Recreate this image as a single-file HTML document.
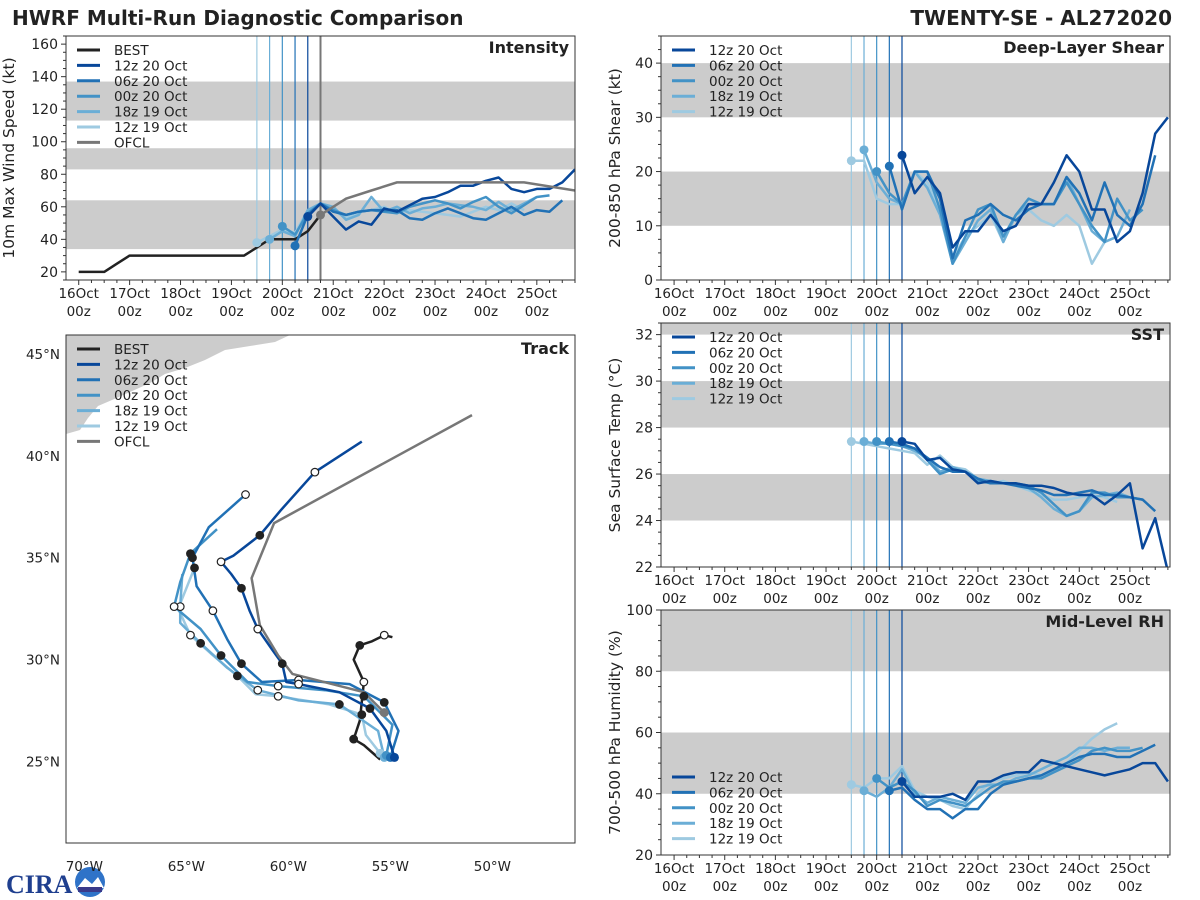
<!DOCTYPE html>
<html><head><meta charset="utf-8">
<style>
html,body{margin:0;padding:0;background:#fff;}
svg{display:block;font-family:"DejaVu Sans","Liberation Sans",sans-serif;}
</style></head>
<body>
<svg id="fig" width="1200" height="900" viewBox="0 0 1200 900">
<rect x="0" y="0" width="1200" height="900" fill="#fff"/>
<text x="12" y="25" font-size="20" font-weight="bold" fill="#222">HWRF Multi-Run Diagnostic Comparison</text>
<text x="1172" y="25" font-size="20" font-weight="bold" fill="#222" text-anchor="end">TWENTY-SE - AL272020</text>
<g id="logo">
<text x="6" y="893" font-size="26" font-weight="bold" fill="#1f3f8f" font-family="Liberation Serif, serif">CIRA</text>
<circle cx="90" cy="882" r="15" fill="#2f73c8"/>
<path d="M77 888 L85 878 L92 884 L98 877 L104 888 Z" fill="#fff"/>
<rect x="78" y="887" width="24" height="5" fill="#3a3a8a"/>
</g>
</svg>
<script>
// ---------- data ----------
const modelNames = ["12z 19 Oct","18z 19 Oct","00z 20 Oct","06z 20 Oct","12z 20 Oct"];
const modelColors = ["#9ecae1","#6baed6","#4292c6","#2171b5","#08479a"];
const modelInitHours = [84,90,96,102,108];
const dayLabels = ["16Oct","17Oct","18Oct","19Oct","20Oct","21Oct","22Oct","23Oct","24Oct","25Oct"];

// Intensity (kt), 6-hourly from init
const int12z19 = [38,42,46,44,58,62,58,53,57,58,60,56,58,57,56,55,54,57,60,58,62,58];
const int18z19 = [40,45,42,58,62,60,52,55,66,57,60,56,59,60,62,61,60,58,63,58,62,66];
const int00z20 = [48,43,56,62,58,55,57,58,57,56,60,62,64,62,59,63,66,60,56,61,66,67];
const int06z20 = [36,55,62,57,55,57,58,58,58,53,52,56,59,56,53,52,56,60,55,58,57,64];
const int12z20 = [54,62,54,46,51,49,59,57,61,65,66,69,73,73,76,78,71,69,71,71,75,83];
const bestHours = [0,6,12,18,24,30,36,42,48,54,60,66,72,78,84,90,96,102,108,114];
const bestWind  = [20,20,20,25,30,30,30,30,30,30,30,30,30,30,35,40,40,40,45,55];
const ofclHours = [114,126,138,150,162,186,210,234];
const ofclWind  = [55,65,70,75,75,75,75,70];

// Deep-layer shear (kt)
const shr12z19 = [22,22,15,14,14,20,18,13,4,8,10,12,7,12,13,11,10,12,10,3,7,8];
const shr18z19 = [24,18,15,14,20,17,12,3,7,11,13,7,12,14,14,14,19,14,9,7,8,13];
const shr00z20 = [20,16,14,20,20,13,3,8,13,14,8,12,15,14,14,18,14,10,7,15,11,13];
const shr06z20 = [21,13,20,20,15,4,11,12,14,12,11,13,14,14,19,16,11,18,12,10,14,23];
const shr12z20 = [23,16,19,16,6,9,9,12,9,10,14,14,18,23,20,13,13,7,9,16,27,30];

// SST (C)
const sst12z19 = [27.4,27.3,27.2,27.1,27.0,26.9,26.4,26.8,26.3,26.2,25.8,25.6,25.7,25.5,25.3,25.1,24.9,24.9,25.0,25.1,25.0,24.8];
const sst18z19 = [27.4,27.3,27.3,27.2,27.0,26.7,26.1,26.3,26.1,25.8,25.7,25.6,25.6,25.4,25.0,24.5,24.2,24.4,25.0,25.1,25.2,25.0];
const sst00z20 = [27.4,27.3,27.2,27.1,26.6,26.0,26.2,26.1,25.7,25.6,25.6,25.6,25.5,25.2,24.7,24.2,24.4,25.2,25.2,25.0,25.0,24.9];
const sst06z20 = [27.4,27.3,27.1,26.7,26.3,26.1,26.1,25.8,25.6,25.6,25.5,25.4,25.3,25.1,25.1,25.2,25.3,25.1,25.1,25.0,24.9,24.4];
const sst12z20 = [27.4,27.3,26.6,26.7,26.2,26.1,25.6,25.7,25.6,25.6,25.5,25.5,25.4,25.2,25.1,25.1,24.7,25.1,25.6,22.8,24.1,21.8];

// Mid-level RH (%)
const rh12z19 = [43,42,45,45,49,41,39,38,36,35,40,44,45,46,47,46,48,50,54,58,61,63];
const rh18z19 = [41,39,42,48,40,37,39,38,37,42,43,43,45,46,48,50,52,55,55,54,55,55];
const rh00z20 = [45,42,44,41,36,38,37,36,39,42,44,44,45,45,47,49,51,54,55,54,54,55];
const rh06z20 = [41,42,38,35,35,32,35,35,40,43,44,45,46,48,50,52,53,53,52,52,54,56];
const rh12z20 = [44,39,39,39,40,38,44,44,46,47,47,51,50,49,48,47,46,47,48,50,50,44];

// Tracks (lon E negative, lat N)
const bestLon = [-55.5,-56.3,-56.8,-56.5,-56.3,-56.8,-56.5,-55.9,-55.3,-54.9];
const bestLat = [25.1,25.8,26.1,27.0,28.9,30.0,30.7,30.9,31.2,31.1];
const ofclLon = [-55.3,-56.3,-59.8,-60.5,-61.4,-61.8,-60.7,-51.0];
const ofclLat = [27.4,28.4,29.3,30.2,31.7,34.0,36.7,42.0];
const trk12z19Lon = [-55.5,-56.2,-56.4,-58.0,-60.5,-61.6,-62.5,-63.8,-64.8,-65.4,-64.6];
const trk12z19Lat = [25.4,26.3,27.3,27.8,28.2,28.3,29.2,30.3,31.2,32.5,34.5];
const trk18z19Lon = [-55.3,-55.6,-57.5,-59.5,-61.5,-63.0,-64.3,-65.3,-65.3,-65.2];
const trk18z19Lat = [25.2,26.5,27.8,28.0,28.5,29.6,30.8,31.8,32.6,34.2];
const trk00z20Lon = [-55.2,-54.9,-56.3,-58.2,-60.5,-62.0,-63.3,-64.3,-65.6,-65.3,-64.8,-63.5];
const trk00z20Lat = [25.3,26.8,28.2,28.5,28.7,28.9,30.2,31.5,32.6,33.8,35.2,36.4];
const trk06z20Lon = [-55.0,-54.6,-55.3,-57.0,-59.5,-61.3,-62.3,-63.0,-63.7,-64.5,-64.7,-63.9,-62.1];
const trk06z20Lat = [25.2,26.5,27.9,28.8,29.0,28.9,29.8,31.0,32.4,33.6,35.0,36.5,38.1];
const trk12z20Lon = [-54.8,-55.2,-56.0,-57.5,-59.5,-60.1,-60.3,-60.8,-61.5,-61.9,-62.3,-62.8,-63.3,-62.7,-61.4,-60.4,-58.7,-56.4];
const trk12z20Lat = [25.2,26.5,27.6,28.4,28.8,28.9,29.8,30.5,31.5,32.4,33.5,34.2,34.8,35.1,36.1,37.3,39.2,40.7];

const intSeries = [int12z19,int18z19,int00z20,int06z20,int12z20];
const shrSeries = [shr12z19,shr18z19,shr00z20,shr06z20,shr12z20];
const sstSeries = [sst12z19,sst18z19,sst00z20,sst06z20,sst12z20];
const rhSeries  = [rh12z19,rh18z19,rh00z20,rh06z20,rh12z20];
const trkLons = [trk12z19Lon,trk18z19Lon,trk00z20Lon,trk06z20Lon,trk12z20Lon];
const trkLats = [trk12z19Lat,trk18z19Lat,trk00z20Lat,trk06z20Lat,trk12z20Lat];

// ---------- drawing ----------
const NS = "http://www.w3.org/2000/svg";
const svg = document.getElementById("fig");
function mk(tag, attrs, parent){
  const e = document.createElementNS(NS, tag);
  for (const k in attrs) e.setAttribute(k, attrs[k]);
  (parent||svg).appendChild(e);
  return e;
}
function txt(x,y,s,size,anchor,extra){
  const e = mk("text",Object.assign({x:x,y:y,"font-size":size,"text-anchor":anchor||"start",fill:"#222"},extra||{}));
  e.textContent = s;
  return e;
}
function polyPts(xs, ys){ return xs.map((x,i)=>x.toFixed(1)+","+ys[i].toFixed(1)).join(" "); }

function timePanel(cfg){
  const P = cfg;
  const X = h => P.l + (h - P.h0)/(P.h1 - P.h0)*(P.r - P.l);
  const Y = v => P.b - (v - P.v0)/(P.v1 - P.v0)*(P.b - P.t);
  const g = mk("g",{});
  
  
  const clipId = P.name + "-clip";
  const cp = mk("clipPath",{id:clipId}, g);
  mk("rect",{x:P.l,y:P.t,width:P.r-P.l,height:P.b-P.t},cp);
  const inner = mk("g",{"clip-path":"url(#"+clipId+")"}, g);
  P.bands.forEach(bd=>{
    const r = mk("rect",{x:P.l,y:Y(bd[1]),width:P.r-P.l,height:Y(bd[0])-Y(bd[1]),fill:"#cccccc"},inner);
    
    
  });
  modelInitHours.forEach((h,i)=>{
    const ln = mk("line",{x1:X(h),x2:X(h),y1:P.t,y2:P.b,stroke:modelColors[i],"stroke-width":1.2},inner);
    
    
  });
  if (P.ofclLine){
    const ln = mk("line",{x1:X(ofclHours[0]),x2:X(ofclHours[0]),y1:P.t,y2:P.b,stroke:"#777","stroke-width":2},inner);
    
    
  }
  if (P.best){
    const pl = mk("polyline",{points:polyPts(bestHours.map(X),bestWind.map(Y)),fill:"none",stroke:"#222","stroke-width":2.5,"stroke-linejoin":"round"},inner);
    
    
  }
  P.series.forEach((arr,i)=>{
    const hs = arr.map((_,k)=>modelInitHours[i]+6*k);
    const pl = mk("polyline",{points:polyPts(hs.map(X),arr.map(Y)),fill:"none",stroke:modelColors[i],"stroke-width":2.5,"stroke-linejoin":"round"},inner);
    
    
    const d = mk("circle",{cx:X(hs[0]),cy:Y(arr[0]),r:4.5,fill:modelColors[i]},inner);
    
    
  });
  if (P.ofcl){
    const pl = mk("polyline",{points:polyPts(ofclHours.map(X),ofclWind.map(Y)),fill:"none",stroke:"#777","stroke-width":2.5},inner);
    
    
    const d = mk("circle",{cx:X(ofclHours[0]),cy:Y(ofclWind[0]),r:4.5,fill:"#777"},inner);
    
    
  }
  const fr = mk("rect",{x:P.l,y:P.t,width:P.r-P.l,height:P.b-P.t,fill:"none",stroke:"#333","stroke-width":1},g);
  
  
  for (let v=P.v0; v<=P.v1+1e-6; v+=P.minor){
    const y = Y(v);
    const q = (v - P.firstMajor)/P.major;
    const major = Math.abs(q - Math.round(q))<1e-6 && v>=P.firstMajor-1e-6;
    mk("line",{x1:P.l-(major?5:3),x2:P.l,y1:y,y2:y,stroke:"#333","stroke-width":1},g);
    if (major){
      const t = txt(P.l-8,y+5,String(Math.round(v)),14,"end");
      
      
    }
  }
  for (let h=0; h<=P.h1; h+=6){
    if (h < P.h0) continue;
    const x = X(h), major = h%24===0;
    mk("line",{x1:x,x2:x,y1:P.b,y2:P.b+(major?5:3),stroke:"#333","stroke-width":1},g);
    if (major && h/24 < dayLabels.length){
      const t1 = txt(x,P.b+18,dayLabels[h/24],13.5,"middle");
      
      
      const t2 = txt(x,P.b+36,"00z",13.5,"middle");
      
      
    }
  }
  const cy = (P.t+P.b)/2;
  const yt = txt(P.ytx,cy,P.ytitle,15.5,"middle",{transform:"rotate(-90 "+P.ytx+" "+cy+")"});
  
  
  const pt = txt(P.r-6,P.t+17,P.title,16,"end",{"font-weight":"bold"});
  
  
  legend(P.l+11, P.legendY || (P.t+14), P.legendBest);
}

function legend(x0,y0,full){
  const items = [];
  if (full) items.push(["BEST","#222"]);
  for (let i=4;i>=0;i--) items.push([modelNames[i],modelColors[i]]);
  if (full) items.push(["OFCL","#777"]);
  items.forEach((it,k)=>{
    const y = y0 + k*15.4;
    const ln = mk("line",{x1:x0,x2:x0+23,y1:y,y2:y,stroke:it[1],"stroke-width":3});
    
    
    const t = txt(x0+37,y+5,it[0],13.5,"start");
    
    
  });
}

timePanel({name:"intensity",l:66,r:575,t:36,b:280,h0:-6,h1:234,v0:15,v1:165,bands:[[34,64],[83,96],[113,137]],
  series:intSeries,best:true,ofcl:true,ofclLine:true,major:20,firstMajor:20,minor:5,ytitle:"10m Max Wind Speed (kt)",ytx:14,title:"Intensity",legendBest:true});
timePanel({name:"shear",l:661,r:1170,t:36,b:280,h0:-6.2,h1:235,v0:0,v1:45,bands:[[10,20],[30,40]],
  series:shrSeries,major:10,firstMajor:0,minor:2.5,ytitle:"200-850 hPa Shear (kt)",ytx:620,title:"Deep-Layer Shear",legendBest:false});
timePanel({name:"sst",l:661,r:1170,t:323,b:567,h0:-6.2,h1:235,v0:22,v1:32.5,bands:[[24,26],[28,30],[32,33]],
  series:sstSeries,major:2,firstMajor:22,minor:0.5,ytitle:"Sea Surface Temp (°C)",ytx:620,title:"SST",legendBest:false});
timePanel({name:"rh",l:661,r:1170,t:610,b:855,h0:-6.2,h1:235,v0:20,v1:100,bands:[[40,60],[80,100]],
  series:rhSeries,major:20,firstMajor:20,minor:5,ytitle:"700-500 hPa Humidity (%)",ytx:620,title:"Mid-Level RH",legendBest:false,legendY:777});

// ---------- track map ----------
(function(){
  const L=66,R=575,T=335,B=843, lon0=-70.9, lon1=-45.95, lat0=21.0, lat1=45.93;
  const X = lo => L + (lo-lon0)/(lon1-lon0)*(R-L);
  const Y = la => B - (la-lat0)/(lat1-lat0)*(B-T);
  const g = mk("g",{});
  
  
  const cp = mk("clipPath",{id:"trk-clip"},g);
  mk("rect",{x:L,y:T,width:R-L,height:B-T},cp);
  const inner = mk("g",{"clip-path":"url(#trk-clip)"},g);
  const land = mk("polygon",{points:"66,335 290,335 275,342 250,346 225,350 205,360 185,368 165,374 150,383 130,392 112,400 98,406 88,418 80,430 66,434",fill:"#cccccc"},inner);
  
  
  function drawTrack(lons,lats,color,name,w){
    const pl = mk("polyline",{points:polyPts(lons.map(X),lats.map(Y)),fill:"none",stroke:color,"stroke-width":w||2.5,"stroke-linejoin":"round"},inner);
    
    
  }
  function markers(lons,lats,startColor){
    lons.forEach((lo,k)=>{
      if (k===0){
        if (startColor){
          const c = mk("circle",{cx:X(lo),cy:Y(lats[k]),r:4.5,fill:startColor},inner);
          
          
        }
        return;
      }
      if (k%2!==0) return;
      const filled = (k/2)%2===1;
      const c = mk("circle",{cx:X(lo),cy:Y(lats[k]),r:3.8,fill:filled?"#222":"#fff",stroke:"#222","stroke-width":1.2},inner);
      
      
    });
  }
  drawTrack(bestLon,bestLat,"#222","best-track-line");
  for (let i=0;i<5;i++) drawTrack(trkLons[i],trkLats[i],modelColors[i],"track-"+modelNames[i].replace(/ /g,'').toLowerCase());
  drawTrack(ofclLon,ofclLat,"#777","ofcl-track-line");
  markers(bestLon,bestLat,null);
  for (let i=0;i<5;i++) markers(trkLons[i],trkLats[i],modelColors[i]);
  const oc = mk("circle",{cx:X(ofclLon[0]),cy:Y(ofclLat[0]),r:4.5,fill:"#777"},inner);
  
  
  const fr = mk("rect",{x:L,y:T,width:R-L,height:B-T,fill:"none",stroke:"#333","stroke-width":1},g);
  
  
  [-70,-65,-60,-55,-50].forEach(lo=>{
    const t = txt(X(lo),B+28,Math.abs(lo)+"°W",13.5,"middle");
    
    
  });
  [25,30,35,40,45].forEach(la=>{
    const t = txt(L-6,Y(la)+5,la+"°N",13.5,"end");
    
    
  });
  const pt = txt(R-6,T+19,"Track",16,"end",{"font-weight":"bold"});
  
  
  legend(L+11, T+14, true);
})();
</script>
</body></html>
